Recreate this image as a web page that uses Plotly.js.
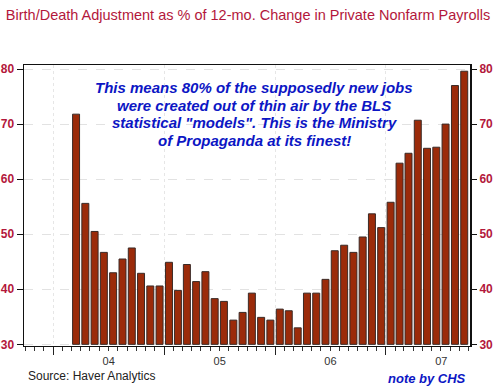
<!DOCTYPE html>
<html>
<head>
<meta charset="utf-8">
<script src="https://cdn.plot.ly/plotly-3.0.1.min.js"></script>
<style>
  html, body { margin: 0; padding: 0; background: #fff; }
  #chart { width: 500px; height: 389px; }
</style>
</head>
<body>
<div id="chart"></div>
<script>
// Months (bars centred in each month)
var months = [
  '2004-03','2004-04','2004-05','2004-06','2004-07','2004-08','2004-09','2004-10','2004-11','2004-12',
  '2005-01','2005-02','2005-03','2005-04','2005-05','2005-06','2005-07','2005-08','2005-09','2005-10','2005-11','2005-12',
  '2006-01','2006-02','2006-03','2006-04','2006-05','2006-06','2006-07','2006-08','2006-09','2006-10','2006-11','2006-12',
  '2007-01','2007-02','2007-03','2007-04','2007-05','2007-06','2007-07','2007-08','2007-09'
];
// Birth/Death adjustment as % of 12-mo. change
var birthDeathPct = [
  71.8, 55.6, 50.5, 46.7, 43.0, 45.5, 47.5, 42.9, 40.6, 40.6,
  44.9, 39.8, 44.5, 41.4, 43.2, 38.3, 37.8, 34.4, 35.8, 39.3, 34.9, 34.4,
  36.4, 36.1, 33.0, 39.3, 39.3, 41.8, 47.0, 48.0, 46.7, 49.5, 53.7, 51.2,
  55.8, 62.9, 64.7, 70.7, 65.6, 65.8, 70.0, 77.0, 79.6
];
var yTicks = [30, 40, 50, 60, 70, 80];
var baseLevel = 30;

var titleText = 'Birth/Death Adjustment as % of 12-mo. Change in Private Nonfarm Payrolls';
var noteLines = [
  'This means 80% of the supposedly new jobs',
  'were created out of thin air by the BLS',
  'statistical "models". This is the Ministry',
  'of Propaganda at its finest!'
];
var sourceText = 'Source: Haver Analytics';
var creditText = 'note by CHS';

var crimson = '#b3173b';
var blue = '#0c16c4';
var font = 'Arial, "Liberation Sans", sans-serif';

var trace = {
  type: 'bar',
  x: months,
  xperiod: 'M1',
  xperiodalignment: 'middle',
  y: birthDeathPct.map(function (v) { return v - baseLevel; }),
  base: baseLevel,
  width: 23 * 86400000,
  marker: { color: '#9b2b0a', line: { color: '#3a2a26', width: 1 } },
  hoverinfo: 'skip'
};
var ghost = {
  type: 'scatter', mode: 'markers',
  x: [months[0]], y: [baseLevel], yaxis: 'y2',
  marker: { opacity: 0 }, showlegend: false, hoverinfo: 'skip'
};

var annotations = noteLines.map(function (line, i) {
  return {
    text: line, xref: 'paper', yref: 'paper', x: 0.516,
    y: (346 - (87.4 + i * 17.6)) / 281,
    xanchor: 'center', yanchor: 'middle', align: 'center', showarrow: false,
    font: { family: font, size: 15, color: blue, weight: 'bold', style: 'italic' }
  };
});
annotations.push({
  text: sourceText, xref: 'paper', yref: 'paper', x: 0.004, y: -0.107,
  xanchor: 'left', yanchor: 'middle', showarrow: false,
  font: { family: font, size: 12, color: '#222' }
});
annotations.push({
  text: creditText, xref: 'paper', yref: 'paper', x: 0.995, y: -0.117,
  xanchor: 'right', yanchor: 'middle', showarrow: false,
  font: { family: font, size: 13, color: blue, weight: 'bold', style: 'italic' }
});

var yRange = [29.7, 80.73];
var layout = {
  width: 500, height: 389,
  margin: { l: 24, r: 30, t: 65, b: 43 },
  paper_bgcolor: '#fff', plot_bgcolor: '#fff',
  showlegend: false,
  bargap: 0,
  font: { family: font },
  title: {
    text: titleText,
    font: { family: font, size: 14.5, color: crimson },
    x: 0.496, xanchor: 'center', y: 0.962, yanchor: 'middle'
  },
  xaxis: {
    type: 'date',
    range: ['2003-09-27', '2007-10-05'],
    tick0: '2004-01-01', dtick: 'M12',
    tickformat: '%y', ticklabelmode: 'period',
    ticks: 'outside', ticklen: 8, tickwidth: 1, tickcolor: '#222',
    ticklabelstandoff: -3,
    tickfont: { family: font, size: 11, color: '#333' },
    showline: true, linecolor: '#111', linewidth: 1, mirror: true,
    showgrid: true, gridcolor: '#e6e6e6', griddash: 'dot', gridwidth: 1,
    minor: { dtick: 'M1', tick0: '2004-01-01', ticks: 'outside', ticklen: 4, tickcolor: '#333', showgrid: false },
    zeroline: false, fixedrange: true
  },
  yaxis: {
    range: yRange, tickvals: yTicks,
    ticks: 'outside', ticklen: 6, tickwidth: 1, tickcolor: '#111',
    tickfont: { family: font, size: 12, color: crimson, weight: 'bold' },
    showline: true, linecolor: '#111', linewidth: 1.5, mirror: true,
    showgrid: true, gridcolor: '#e2e2e2', griddash: 'dash', gridwidth: 1,
    zeroline: false, fixedrange: true
  },
  yaxis2: {
    overlaying: 'y', side: 'right', range: yRange, tickvals: yTicks,
    ticks: 'outside', ticklen: 6, tickwidth: 1, tickcolor: '#111',
    tickfont: { family: font, size: 12, color: crimson, weight: 'bold' },
    showline: false, showgrid: false, zeroline: false, fixedrange: true
  },
  annotations: annotations
};

Plotly.newPlot('chart', [trace, ghost], layout, { staticPlot: true, displayModeBar: false });
</script>
</body>
</html>
